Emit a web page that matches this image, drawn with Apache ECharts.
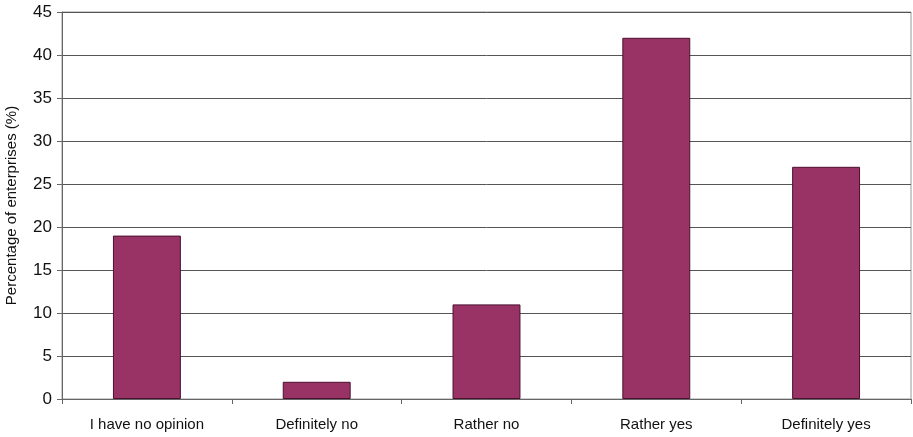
<!DOCTYPE html>
<html>
<head>
<meta charset="utf-8">
<script src="https://cdn.jsdelivr.net/npm/echarts@6/dist/echarts.min.js"></script>
<style>
  html, body { margin: 0; padding: 0; background: #fff; }
  #chart { width: 913px; height: 437px; }
</style>
</head>
<body>
<div id="chart"></div>
<script>
// Survey answers and share of enterprises giving each answer
const categories = ['I have no opinion', 'Definitely no', 'Rather no', 'Rather yes', 'Definitely yes'];
const shares = [19, 2, 11, 42, 27];
const yTicks = { min: 0, max: 45, interval: 5 };
const yAxisTitle = 'Percentage of enterprises (%)';

const chart = echarts.init(document.getElementById('chart'), null, { renderer: 'canvas' });
chart.setOption({
  animation: false,
  grid: {
    left: 62, right: 2, top: 12, bottom: 38,
    outerBoundsMode: 'none',
    show: true, borderColor: '#999', borderWidth: 1
  },
  xAxis: {
    type: 'category',
    data: categories,
    boundaryGap: true,
    axisLine: { lineStyle: { color: '#666', width: 1 } },
    axisTick: { show: true, length: 5, lineStyle: { color: '#666' } },
    axisLabel: { color: '#111', fontFamily: 'Liberation Sans, Arial, sans-serif', fontSize: 15, margin: 18 }
  },
  yAxis: {
    type: 'value',
    min: yTicks.min,
    max: yTicks.max,
    interval: yTicks.interval,
    name: yAxisTitle,
    nameLocation: 'middle',
    nameGap: 43,
    nameTextStyle: { color: '#111', fontFamily: 'Liberation Sans, Arial, sans-serif', fontSize: 15 },
    axisLine: { show: true, lineStyle: { color: '#666', width: 1 } },
    axisTick: { show: true, length: 5, lineStyle: { color: '#666' } },
    axisLabel: { color: '#111', fontFamily: 'Liberation Sans, Arial, sans-serif', fontSize: 17, margin: 10 },
    splitLine: { show: true, lineStyle: { color: '#555', width: 1 } }
  },
  series: [{
    type: 'bar',
    data: shares,
    barWidth: '40%',
    itemStyle: { color: '#993366', borderColor: '#4a1030', borderWidth: 1 }
  }]
});
</script>
</body>
</html>
